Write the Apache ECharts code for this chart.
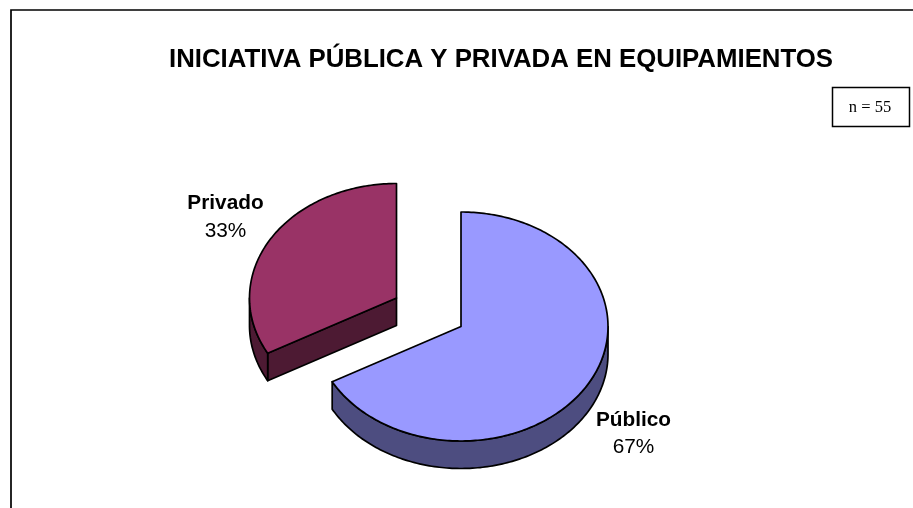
<!DOCTYPE html>
<html>
<head>
<meta charset="utf-8">
<style>html,body{margin:0;padding:0;background:#fff}#c{width:913px;height:508px}</style>
<script src="https://cdn.jsdelivr.net/npm/echarts@6/dist/echarts.min.js"></script>
</head>
<body>
<div id="c"></div>
<script>
const chartTitle = 'INICIATIVA PÚBLICA Y PRIVADA EN EQUIPAMIENTOS';
const noteText = 'n = 55';
const categories = ['Público', 'Privado'];
const seriesValues = [67, 33];

const styles = [
  {top: '#9999FF', wall: '#4D4D80', cx: 461, cy: 326.5, lx: 633.5, ly: 420},
  {top: '#993366', wall: '#4D1A33', cx: 396.5, cy: 298, lx: 225.5, ly: 203.5}
];
const RX = 147, RY = 114.5, DEPTH = 27.5;
const total = seriesValues.reduce((a, b) => a + b, 0);
const rad = d => d * Math.PI / 180;

function pt(s, a, dz) {
  return [s.cx + RX * Math.sin(rad(a)), s.cy - RY * Math.cos(rad(a)) + (dz || 0)];
}
function arc(s, a0, a1, dz) {
  const out = [];
  const n = Math.max(2, Math.ceil(Math.abs(a1 - a0)));
  for (let i = 0; i <= n; i++) out.push(pt(s, a0 + (a1 - a0) * i / n, dz));
  return out;
}
const lineStyle = (fill) => ({fill, stroke: '#000', lineWidth: 1.7, lineJoin: 'round'});

function renderSlice(params, api) {
  const idx = params.dataIndex;
  const s = styles[idx];
  const val = api.value(0);
  let before = 0;
  for (let i = 0; i < idx; i++) before += seriesValues[i];
  const a0 = before / total * 360;
  const a1 = (before + val) / total * 360;
  const children = [];
  const c = [s.cx, s.cy];
  const cLow = [s.cx, s.cy + DEPTH];
  const poly = (points, fill) => children.push({type: 'polygon', shape: {points}, style: lineStyle(fill)});

  // side faces of the cut, only when they look toward the viewer
  if (-Math.cos(rad(a0 - 90)) > 0.001) {
    poly([c, pt(s, a0), pt(s, a0, DEPTH), cLow], s.wall);
  }
  if (-Math.cos(rad(a1 + 90)) > 0.001) {
    poly([c, pt(s, a1), pt(s, a1, DEPTH), cLow], s.wall);
  }
  // outer rim, the front half only
  const w0 = Math.max(a0, 90), w1 = Math.min(a1, 270);
  if (w1 > w0) {
    poly(arc(s, w0, w1, 0).concat(arc(s, w1, w0, DEPTH)), s.wall);
  }
  // top face
  poly([c].concat(arc(s, a0, a1, 0)), s.top);

  children.push({
    type: 'text',
    style: {
      x: s.lx, y: s.ly, align: 'center', verticalAlign: 'middle',
      text: '{b|' + categories[idx] + '}\n{v|' + Math.round(val / total * 100) + '%}',
      rich: {
        b: {font: 'bold 20.8px "Liberation Sans"', fill: '#000', lineHeight: 27.5, align: 'center'},
        v: {font: '20.8px "Liberation Sans"', fill: '#000', lineHeight: 27.5, align: 'center'}
      }
    },
    y: 14
  });
  return {type: 'group', children};
}

const chart = echarts.init(document.getElementById('c'), null, {renderer: 'canvas'});
chart.setOption({
  animation: false,
  backgroundColor: '#fff',
  title: {
    text: chartTitle, left: 496, top: 42, textAlign: 'center',
    textStyle: {fontFamily: 'Liberation Sans', fontSize: 25.8, fontWeight: 'bold', color: '#000'}
  },
  graphic: [
    {type: 'polyline', shape: {points: [[913, 10], [11, 10], [11, 508]]}, style: {fill: null, stroke: '#000', lineWidth: 1.7}},
    {type: 'rect', shape: {x: 832.5, y: 87.5, width: 77, height: 39}, style: {fill: '#fff', stroke: '#000', lineWidth: 1.5}},
    {type: 'text', style: {x: 870, y: 108, text: noteText, align: 'center', verticalAlign: 'middle', font: '16.5px "Liberation Serif"', fill: '#000'}}
  ],
  series: [{
    type: 'custom',
    coordinateSystem: 'none',
    silent: true,
    renderItem: renderSlice,
    data: seriesValues.map((v, i) => ({name: categories[i], value: [v]}))
  }]
});
</script>
</body>
</html>
